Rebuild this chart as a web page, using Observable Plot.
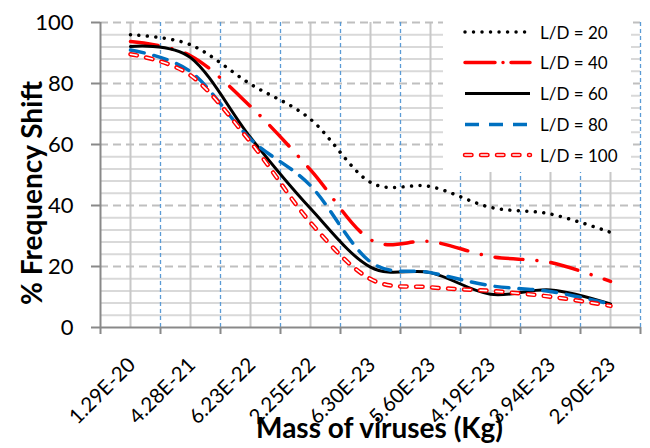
<!DOCTYPE html>
<html><head><meta charset="utf-8">
<script src="https://cdn.jsdelivr.net/npm/d3@7"></script>
<script src="https://cdn.jsdelivr.net/npm/@observablehq/plot@0.6"></script>
<style>
body{margin:0;background:#fff;}
#wrap{position:relative;width:650px;height:448px;font-family:Lato,sans-serif;}
#legend{position:absolute;left:443px;top:12px;width:188px;height:160px;background:#fff;}
</style></head><body><div id="wrap"></div>
<script>
const massLabels = ["1.29E-20","4.28E-21","6.23E-22","2.25E-22","6.30E-23","5.60E-23","4.19E-23","3.94E-23","2.90E-23"];
const seriesNames = ["L/D = 20","L/D = 40","L/D = 60","L/D = 80","L/D = 100"];
const ld20  = [96, 92.7, 79.8, 68.3, 47.6, 46.2, 39.4, 37.2, 31.2];
const ld40  = [93.8, 89.1, 72.5, 51.7, 28.8, 28.2, 23.3, 21.3, 15.1];
const ld60  = [92.1, 88.5, 62.3, 39.0, 19.8, 18.0, 10.9, 12.3, 7.7];
const ld80  = [91.0, 83.9, 61.8, 46.5, 21.5, 18.0, 13.7, 11.8, 7.7];
const ld100 = [89.6, 82.7, 60.8, 34.4, 15.9, 13.2, 12.0, 10.1, 7.1];
const yTicks = [0, 20, 40, 60, 80, 100];
const yTitle = "% Frequency Shift";
const xTitle = "Mass of viruses (Kg)";

const allSeries = [ld20, ld40, ld60, ld80, ld100];
const rows = [];
allSeries.forEach((arr, s) => arr.forEach((v, i) => rows.push({i, v, s: seriesNames[s]})));

const idx = d3.range(massLabels.length);
const bounds = idx.map(i => i + 0.5);
const minor = d3.range(0, 100, 4).filter(v => v % 20 !== 0);
const xMin = -0.5;

const styles = [
  [{stroke:"#000", strokeWidth:3.5, strokeDasharray:"0.01,8.5", strokeLinecap:"round"}],
  [{stroke:"#ff0000", strokeWidth:3.5, strokeDasharray:"28,14,0.01,14", strokeLinecap:"round"}],
  [{stroke:"#000", strokeWidth:3}],
  [{stroke:"#0070c0", strokeWidth:3.5, strokeDasharray:"14,10"}],
  [{stroke:"#ff0000", strokeWidth:4.5, strokeDasharray:"6.5,9.5", strokeLinecap:"round"},
   {stroke:"#ffffff", strokeWidth:1.6, strokeDasharray:"6.5,9.5", strokeLinecap:"round"}]
];

const lineMarks = [];
seriesNames.forEach((name, s) => {
  styles[s].forEach(st => {
    lineMarks.push(Plot.line(rows.filter(r => r.s === name), {x:"i", y:"v", curve:"cardinal", ...st}));
  });
});

const plot = Plot.plot({
  width:650, height:448,
  marginLeft:100, marginRight:10, marginTop:22, marginBottom:121,
  x:{type:"linear", domain:[xMin, massLabels.length - 0.5]},
  y:{domain:[0, 100]},
  style:{fontFamily:"Lato, sans-serif", fontSize:"21px", color:"#000", background:"#fff", overflow:"visible"},
  marks:[
    Plot.ruleY(minor, {stroke:"#d9d9d9", strokeWidth:2}),
    Plot.ruleX(idx, {stroke:"#c8c8c8", strokeWidth:2}),
    Plot.ruleY(yTicks.slice(1), {stroke:"#bfbfbf", strokeWidth:2, strokeDasharray:"8,5"}),
    Plot.ruleX(bounds, {stroke:"#5b9bd5", strokeWidth:1.3, strokeDasharray:"4,3"}),
    Plot.ruleX([xMin], {stroke:"#898989", strokeWidth:2}),
    Plot.ruleY([0], {stroke:"#898989", strokeWidth:2}),
    Plot.axisY({ticks:yTicks, tickSize:9, tickFormat:() => "", stroke:"#898989", strokeWidth:2, label:null}),
    Plot.axisX({ticks:[xMin, ...bounds], tickSize:7, tickFormat:() => "", stroke:"#898989", strokeWidth:2, label:null}),
    Plot.text(yTicks, {x:() => xMin, y:d => d, text:d => String(d), dx:-27, textAnchor:"end", lineAnchor:"middle", fontSize:22, fill:"#000"}),
    Plot.text(idx, {x:d => d, y:() => 0, text:d => massLabels[d], rotate:-45, textAnchor:"end", lineAnchor:"middle", dx:1.5, dy:34, fontSize:20.5, fill:"#000"}),
    ...lineMarks,
    Plot.text([yTitle], {text:d => d, frameAnchor:"left", dx:-67, dy:18, rotate:-90, textAnchor:"middle", lineAnchor:"middle", fontSize:28, fontWeight:"bold", fill:"#000"}),
    Plot.text([xTitle], {text:d => d, frameAnchor:"bottom", dx:9, dy:102, textAnchor:"middle", lineAnchor:"middle", fontSize:28, fontWeight:"bold", fill:"#000"})
  ]
});

const wrap = document.getElementById("wrap");
wrap.appendChild(plot);

// legend
const ns = "http://www.w3.org/2000/svg";
const leg = document.createElement("div");
leg.id = "legend";
const lsvg = document.createElementNS(ns, "svg");
lsvg.setAttribute("width", 188); lsvg.setAttribute("height", 160);
const rowY = [20, 50.5, 81.5, 112.5, 143];
seriesNames.forEach((name, s) => {
  styles[s].forEach(st => {
    const l = document.createElementNS(ns, "line");
    l.setAttribute("x1", 22); l.setAttribute("x2", 87);
    l.setAttribute("y1", rowY[s]); l.setAttribute("y2", rowY[s]);
    l.setAttribute("stroke", st.stroke);
    l.setAttribute("stroke-width", st.strokeWidth);
    if (st.strokeDasharray) l.setAttribute("stroke-dasharray", st.strokeDasharray === "28,14,0.01,14" ? "30,8,0.01,8" : st.strokeDasharray);
    if (st.strokeLinecap) l.setAttribute("stroke-linecap", st.strokeLinecap);
    lsvg.appendChild(l);
  });
  const t = document.createElementNS(ns, "text");
  t.setAttribute("x", 97); t.setAttribute("y", rowY[s]);
  t.setAttribute("dominant-baseline", "central");
  t.setAttribute("font-family", "Lato, sans-serif");
  t.setAttribute("font-size", 17);
  t.setAttribute("fill", "#000");
  t.textContent = name;
  lsvg.appendChild(t);
});
leg.appendChild(lsvg);
wrap.appendChild(leg);
</script>
</body></html>
